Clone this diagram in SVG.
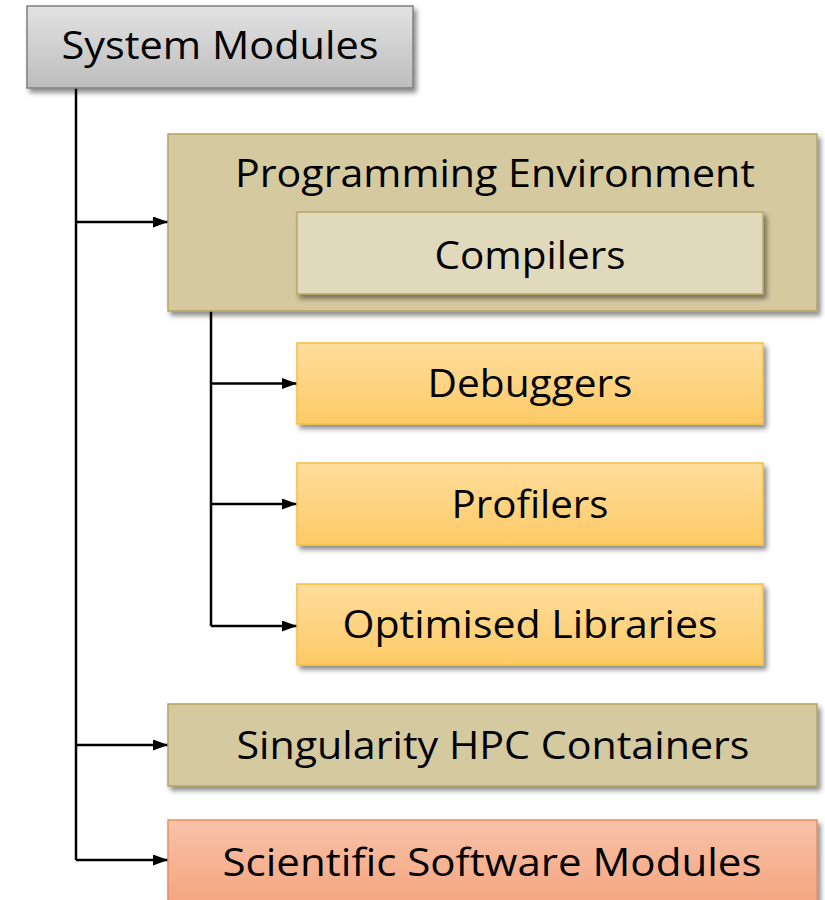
<svg xmlns="http://www.w3.org/2000/svg" width="825" height="900" viewBox="0 0 825 900">
<style>
  text { font-family: "Open Sans", "Noto Sans", "Liberation Sans", sans-serif; font-size: 39px; fill: #000; text-anchor: middle; }
  .conn { stroke: #000; stroke-width: 2.5; fill: none; }
</style>
<defs>
  <linearGradient id="gGray" x1="0" y1="0" x2="0" y2="1">
    <stop offset="0" stop-color="#e2e2e2"/>
    <stop offset="1" stop-color="#bdbdbd"/>
  </linearGradient>
  <linearGradient id="gYellow" x1="0" y1="0" x2="0" y2="1">
    <stop offset="0" stop-color="#ffdd9c"/>
    <stop offset="1" stop-color="#fdca66"/>
  </linearGradient>
  <linearGradient id="gOrange" x1="0" y1="0" x2="0" y2="1">
    <stop offset="0" stop-color="#f8c2a8"/>
    <stop offset="1" stop-color="#f4a37d"/>
  </linearGradient>
  <filter id="sh" x="-5%" y="-10%" width="115%" height="130%">
    <feDropShadow dx="3" dy="4" stdDeviation="2.5" flood-color="#000" flood-opacity="0.45"/>
  </filter>
  <marker id="arr" viewBox="0 0 15 11" refX="15" refY="5.5" markerWidth="15" markerHeight="11" markerUnits="userSpaceOnUse" orient="auto">
    <path d="M0,0 L15,5.5 L0,11 Z" fill="#000"/>
  </marker>
</defs>

<g id="connectors">
  <path class="conn" d="M76,88 V860"/>
  <path class="conn" d="M76,222 H168" marker-end="url(#arr)"/>
  <path class="conn" d="M76,745 H168" marker-end="url(#arr)"/>
  <path class="conn" d="M76,860 H168" marker-end="url(#arr)"/>
  <path class="conn" d="M211,311 V626"/>
  <path class="conn" d="M211,383.5 H297" marker-end="url(#arr)"/>
  <path class="conn" d="M211,504 H297" marker-end="url(#arr)"/>
  <path class="conn" d="M211,626 H297" marker-end="url(#arr)"/>
</g>

<g id="system-modules">
  <rect x="27" y="6" width="386" height="82" fill="url(#gGray)" stroke="#7f7f7f" stroke-width="1.5" filter="url(#sh)"/>
  <text x="220" y="59" textLength="317" lengthAdjust="spacingAndGlyphs">System Modules</text>
</g>

<g id="programming-environment">
  <rect x="168" y="134" width="649" height="177" fill="#d4c99f" stroke="#b3a262" stroke-width="1.5" filter="url(#sh)"/>
  <text x="495" y="187" textLength="520" lengthAdjust="spacingAndGlyphs">Programming Environment</text>
</g>

<g id="compilers">
  <rect x="297" y="212" width="466" height="82" fill="#e0d9bb" stroke="#b9a764" stroke-width="1.5" filter="url(#sh)"/>
  <text x="530" y="269" textLength="191" lengthAdjust="spacingAndGlyphs">Compilers</text>
</g>

<g id="debuggers">
  <rect x="297" y="343" width="466" height="81" fill="url(#gYellow)" stroke="#f6bf3c" stroke-width="1.5" filter="url(#sh)"/>
  <text x="530" y="397" textLength="205" lengthAdjust="spacingAndGlyphs">Debuggers</text>
</g>

<g id="profilers">
  <rect x="297" y="463" width="466" height="82" fill="url(#gYellow)" stroke="#f6bf3c" stroke-width="1.5" filter="url(#sh)"/>
  <text x="530" y="518" textLength="157" lengthAdjust="spacingAndGlyphs">Profilers</text>
</g>

<g id="optimised-libraries">
  <rect x="297" y="584" width="466" height="81" fill="url(#gYellow)" stroke="#f6bf3c" stroke-width="1.5" filter="url(#sh)"/>
  <text x="530" y="638" textLength="375" lengthAdjust="spacingAndGlyphs">Optimised Libraries</text>
</g>

<g id="singularity">
  <rect x="168" y="704" width="649" height="82" fill="#d4c99f" stroke="#b3a262" stroke-width="1.5" filter="url(#sh)"/>
  <text x="493" y="759" textLength="513" lengthAdjust="spacingAndGlyphs">Singularity HPC Containers</text>
</g>

<g id="scientific-software">
  <rect x="168" y="820" width="649" height="90" fill="url(#gOrange)" stroke="#ef8c5c" stroke-width="1.5" filter="url(#sh)"/>
  <text x="492" y="876" textLength="539" lengthAdjust="spacingAndGlyphs">Scientific Software Modules</text>
</g>
</svg>
